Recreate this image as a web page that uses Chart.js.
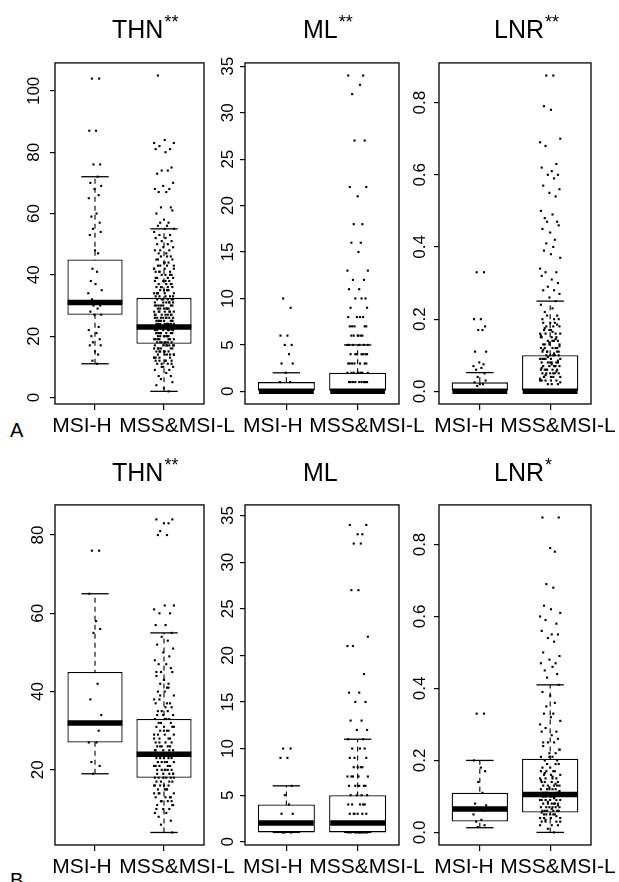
<!DOCTYPE html>
<html>
<head>
<meta charset="utf-8">
<script src="https://cdn.jsdelivr.net/npm/chart.js@4.4.1/dist/chart.umd.min.js"></script>
<style>
  body { margin: 0; background: #fff; width: 619px; height: 882px; position: relative; overflow: hidden;
         font-family: "Liberation Sans", Arial, sans-serif; color: #000; }
  canvas { position: absolute; }
  .title { position: absolute; font-size: 25px; line-height: 25px; white-space: nowrap; }
  .title sup { font-size: 18px; line-height: 18px; vertical-align: top; position: relative; top: -4px; margin-left: 1px; }
  .tag { position: absolute; font-size: 20px; line-height: 20px; }
</style>
</head>
<body>
<div class="tag" style="left:10px;top:420px;">A</div>
<div class="tag" style="left:10px;top:870px;">B</div>
<script>
const groupLabels = ["MSI-H", "MSS&MSI-L"];

// box stats per group: [lower whisker, Q1, median, Q3, upper whisker]
const statsThnA = [[11, 27, 31, 45, 72], [2, 17.5, 23, 32.5, 55]];
const statsMlA  = [[0, 0, 0, 1, 2], [0, 0, 0, 2, 5]];
const statsLnrA = [[0, 0, 0, 0.025, 0.052], [0, 0, 0, 0.1, 0.25]];
const statsThnB = [[19, 27, 32, 45, 65], [4, 18, 24, 33, 55]];
const statsMlB  = [[1, 1, 2, 4, 6], [1, 1, 2, 5, 11]];
const statsLnrB = [[0.013, 0.03, 0.065, 0.11, 0.2], [0, 0.055, 0.105, 0.205, 0.41]];

const thnAMsiH = [104, 104, 87, 87, 76, 76, 72, 70, 69, 68, 66, 65, 60, 59, 57, 55, 54, 53, 48, 47, 42, 41, 38, 37,
  35, 34, 32, 31, 31, 31, 30, 30, 29, 28, 27, 27, 23, 22, 21, 20, 19, 18, 17, 17, 15, 14, 12, 11];
const thnAMss = [105, 84, 83, 83, 82, 81, 81, 80, 75, 74, 74, 73, 70, 69, 68, 68, 67, 67, 62, 62, 61, 60,
  58, 57, 57, 56, 56, 55, 55, 54, 53, 53, 52, 52, 51, 51, 50, 50, 49, 49, 48, 48, 47, 47, 46, 46, 45, 45,
  44, 44, 43, 43, 43, 42, 42, 42, 41, 41, 41, 40, 40, 40, 39, 39, 39, 38, 38, 38, 37, 37, 37, 36, 36, 36,
  35, 35, 35, 35, 34, 34, 34, 34, 33, 33, 33, 33, 32, 32, 32, 32, 31, 31, 31, 31, 31, 30, 30, 30, 30, 30,
  29, 29, 29, 29, 29, 28, 28, 28, 28, 28, 27, 27, 27, 27, 27, 26, 26, 26, 26, 26, 26, 25, 25, 25, 25, 25, 25,
  24, 24, 24, 24, 24, 24, 23, 23, 23, 23, 23, 23, 23, 22, 22, 22, 22, 22, 22, 21, 21, 21, 21, 21, 21,
  20, 20, 20, 20, 20, 20, 19, 19, 19, 19, 19, 18, 18, 18, 18, 18, 17, 17, 17, 17, 17, 16, 16, 16, 16,
  15, 15, 15, 15, 14, 14, 14, 14, 13, 13, 13, 12, 12, 12, 11, 11, 11, 10, 10, 9, 9, 8, 7, 7, 6, 5, 4, 3, 2,
  48, 46, 45, 44, 43, 42, 41, 40, 39, 38, 37, 36, 35, 34, 33, 32, 31, 30, 29, 28, 27, 26, 25, 24, 23, 22,
  21, 20, 19, 18, 17, 16, 15, 14, 13, 12, 11, 10, 36, 34, 32, 30, 28, 27, 26, 25, 24, 23, 22, 21, 20, 19,
  18, 17, 16, 15, 14, 13, 12];

const mlAMsiH = [10, 9, 6, 6, 5, 5, 4, 3, 3, 2, 1, 1, 0, 0, 0, 0, 0, 0, 0, 0, 0, 0, 0, 0, 0, 0, 0, 0, 0, 0,
  0, 0, 0, 0, 0, 0];
const mlAMss = [34, 34, 33, 32, 27, 27, 22, 22, 21, 18, 18, 16, 16, 15, 13, 13, 12, 12, 11, 11, 10, 10, 10,
  9, 9, 8, 8, 8, 8, 7, 7, 7, 7, 7, 6, 6, 6, 6, 6, 6, 5, 5, 5, 5, 5, 5, 4, 4, 4, 4, 4, 4, 4, 3, 3, 3, 3, 3, 3, 3,
  2, 2, 2, 2, 2, 2, 2, 2, 1, 1, 1, 1, 1, 1, 1, 1, 1, 0, 0, 0, 0, 0, 0, 0, 0, 0, 0, 0, 0, 0, 0, 0, 0, 0, 0,
  0, 0, 0, 0, 0, 0, 0, 0, 0, 0, 0, 0];

const lnrAMsiH = [0.33, 0.33, 0.2, 0.2, 0.18, 0.17, 0.17, 0.11, 0.11, 0.08, 0.075, 0.07, 0.065, 0.06, 0.05,
  0.04, 0.03, 0.025, 0.02, 0.02, 0.015, 0, 0, 0, 0, 0, 0, 0, 0, 0, 0, 0, 0, 0, 0, 0, 0, 0, 0, 0, 0, 0, 0, 0, 0, 0];
const lnrAMss = [0.875, 0.875, 0.79, 0.78, 0.70, 0.69, 0.68, 0.63, 0.62, 0.61, 0.60, 0.60, 0.59, 0.57, 0.56,
  0.55, 0.54, 0.50, 0.49, 0.48, 0.47, 0.47, 0.46, 0.45, 0.44, 0.42, 0.41, 0.40, 0.39, 0.38, 0.37, 0.34,
  0.33, 0.33, 0.32, 0.31, 0.30, 0.29, 0.28, 0.28, 0.27, 0.26, 0.25, 0.24, 0.23, 0.22, 0.21, 0.21, 0.20,
  0.20, 0.19, 0.19, 0.18, 0.18, 0.17, 0.17, 0.16, 0.16, 0.16, 0.15, 0.15, 0.15, 0.14, 0.14, 0.14, 0.13,
  0.13, 0.13, 0.12, 0.12, 0.12, 0.12, 0.11, 0.11, 0.11, 0.11, 0.10, 0.10, 0.10, 0.10, 0.09, 0.09, 0.09,
  0.09, 0.09, 0.08, 0.08, 0.08, 0.08, 0.08, 0.07, 0.07, 0.07, 0.07, 0.07, 0.06, 0.06, 0.06, 0.06, 0.06,
  0.05, 0.05, 0.05, 0.05, 0.05, 0.04, 0.04, 0.04, 0.04, 0.03, 0.03, 0.03, 0.03, 0.02, 0.02, 0.02,
  0.2, 0.19, 0.18, 0.17, 0.16, 0.15, 0.14, 0.13, 0.12, 0.11, 0.10, 0.09, 0.08, 0.07, 0.06, 0.05, 0.04, 0.03,
  0.025, 0.035, 0.045, 0.055, 0.065, 0.075, 0.085, 0.095, 0.105, 0.115, 0.125, 0.135, 0.145, 0.155, 0.165,
  0.175, 0.185,
  0, 0, 0, 0, 0, 0, 0, 0, 0, 0, 0, 0, 0, 0, 0, 0, 0, 0, 0, 0, 0, 0, 0, 0, 0, 0, 0, 0, 0, 0];

const thnBMsiH = [76, 76, 65, 58, 56, 55, 42, 38, 34, 32, 30, 27, 27, 22, 21, 19];
const thnBMss = [84, 84, 83, 83, 81, 80, 80, 62, 62, 61, 60, 60, 57, 57, 55, 54, 53, 52, 51, 50, 49, 48,
  47, 47, 46, 45, 45, 44, 43, 42, 42, 41, 40, 40, 39, 38, 38, 37, 37, 36, 36, 35, 35, 34, 34, 34, 33, 33,
  33, 32, 32, 32, 31, 31, 31, 30, 30, 30, 29, 29, 29, 28, 28, 28, 27, 27, 27, 26, 26, 26, 25, 25, 25, 25,
  24, 24, 24, 24, 24, 23, 23, 23, 23, 22, 22, 22, 22, 21, 21, 21, 21, 20, 20, 20, 20, 19, 19, 19, 19,
  18, 18, 18, 18, 17, 17, 17, 16, 16, 16, 15, 15, 15, 14, 14, 14, 13, 13, 13, 12, 12, 12, 11, 11, 10, 10,
  9, 9, 8, 7, 6, 4, 45, 43, 41, 39, 37, 35, 33, 31, 29, 27, 26, 25, 24, 23, 22, 21, 20, 19, 18, 17, 16, 15,
  14, 13, 12, 11, 10, 30, 28, 26, 24, 22, 20, 18, 16];

const mlBMsiH = [10, 10, 9, 9, 6, 5, 4, 3, 3, 2, 2, 2, 2, 1, 1, 1];
const mlBMss = [34, 34, 33, 33, 32, 32, 27, 27, 22, 21, 21, 18, 16, 16, 15, 15, 13, 13, 12, 12, 11, 11, 10,
  10, 10, 9, 9, 9, 8, 8, 8, 8, 7, 7, 7, 7, 7, 6, 6, 6, 6, 6, 5, 5, 5, 5, 4, 4, 4, 4, 4, 3, 3, 3, 3, 3, 3,
  2, 2, 2, 2, 2, 2, 2, 2, 1, 1, 1, 1, 1, 1, 1, 1, 1, 1];

const lnrBMsiH = [0.33, 0.33, 0.2, 0.18, 0.17, 0.14, 0.11, 0.08, 0.075, 0.065, 0.06, 0.05, 0.035, 0.03, 0.02, 0.015];
const lnrBMss = [0.875, 0.875, 0.79, 0.78, 0.69, 0.68, 0.63, 0.62, 0.61, 0.60, 0.59, 0.58, 0.56, 0.55, 0.55,
  0.54, 0.53, 0.50, 0.49, 0.48, 0.47, 0.47, 0.46, 0.45, 0.44, 0.43, 0.41, 0.39, 0.38, 0.36, 0.35, 0.33,
  0.33, 0.32, 0.31, 0.30, 0.29, 0.28, 0.28, 0.27, 0.26, 0.25, 0.25, 0.24, 0.23, 0.22, 0.22, 0.21, 0.21,
  0.20, 0.20, 0.19, 0.19, 0.18, 0.18, 0.17, 0.17, 0.17, 0.16, 0.16, 0.16, 0.15, 0.15, 0.15, 0.14, 0.14,
  0.14, 0.13, 0.13, 0.13, 0.13, 0.12, 0.12, 0.12, 0.12, 0.11, 0.11, 0.11, 0.11, 0.11, 0.10, 0.10, 0.10,
  0.10, 0.10, 0.10, 0.09, 0.09, 0.09, 0.09, 0.09, 0.08, 0.08, 0.08, 0.08, 0.08, 0.07, 0.07, 0.07, 0.07,
  0.07, 0.06, 0.06, 0.06, 0.06, 0.06, 0.05, 0.05, 0.05, 0.05, 0.04, 0.04, 0.04, 0.04, 0.03, 0.03, 0.03,
  0.02, 0.02, 0.01, 0.0, 0.25, 0.23, 0.21, 0.19, 0.17, 0.15, 0.14, 0.13, 0.12, 0.11, 0.10, 0.09, 0.08,
  0.07, 0.06, 0.05, 0.04, 0.03, 0.02, 0.035, 0.045, 0.055, 0.065, 0.075, 0.085, 0.095, 0.105, 0.115,
  0.125, 0.135, 0.145, 0.155, 0.165];

// y-axis ticks
const thnTicksA = [0, 20, 40, 60, 80, 100];
const thnTicksB = [20, 40, 60, 80];
const mlTicks = [0, 5, 10, 15, 20, 25, 30, 35];
const lnrTicks = [0, 0.2, 0.4, 0.6, 0.8];
const lnrTickLabels = ["0.0", "0.2", "0.4", "0.6", "0.8"];

// horizontal spread of the strip points, in group units
const jitterOffsets = [-0.06, 0.08, -0.11, 0.02, 0.10, -0.03, 0.05, -0.09, 0.12, -0.01, 0.07, -0.12, 0.03,
  -0.07, 0.09, -0.04, 0.11, -0.10, 0.00, 0.06, -0.05, 0.04, -0.08, 0.01, 0.13, -0.13];
const jitterScale = [0.75, 1.1];

// layout: plot frames, titles, and where the group names sit (x units) in each column
const colBounds = [[55, 204], [245, 399], [439, 591]];
const rowBounds = [[50, 404], [492, 845]];
const titleLeft = [112, 303, 494];
const titleTop = [17, 460];
const labelPos = [[0.81, 2.19], [0.81, 2.13], [0.775, 2.11]];

const panels = [
  { row: 0, col: 0, name: "THN", stars: "**", stats: statsThnA, pts: [thnAMsiH, thnAMss], y: [-2.12, 109.12], ticks: thnTicksA },
  { row: 0, col: 1, name: "ML", stars: "**", stats: statsMlA, pts: [mlAMsiH, mlAMss], y: [-1.36, 35.36], ticks: mlTicks },
  { row: 0, col: 2, name: "LNR", stars: "**", stats: statsLnrA, pts: [lnrAMsiH, lnrAMss], y: [-0.035, 0.91], ticks: lnrTicks, labels: lnrTickLabels },
  { row: 1, col: 0, name: "THN", stars: "**", stats: statsThnB, pts: [thnBMsiH, thnBMss], y: [0.8, 87.7], ticks: thnTicksB },
  { row: 1, col: 1, name: "ML", stars: "", stats: statsMlB, pts: [mlBMsiH, mlBMss], y: [-0.35, 36.15], ticks: mlTicks },
  { row: 1, col: 2, name: "LNR", stars: "*", stats: statsLnrB, pts: [lnrBMsiH, lnrBMss], y: [-0.035, 0.91], ticks: lnrTicks, labels: lnrTickLabels }
];

Chart.defaults.font.family = "'Liberation Sans', Arial, sans-serif";
Chart.defaults.color = "#000";

const framePlugin = {
  id: "frame",
  afterDraw(chart) {
    const a = chart.chartArea, ctx = chart.ctx;
    ctx.save();
    ctx.strokeStyle = "#000";
    ctx.lineWidth = 1.3;
    ctx.strokeRect(a.left, a.top, a.right - a.left, a.bottom - a.top);
    ctx.restore();
  }
};

const padL = 50, padT = 20, padR = 45, tickH = 6, labelH = 39;
const xMin = 0.42, xMax = 2.58;

panels.forEach(function (p) {
  const [x0, x1] = colBounds[p.col];
  const [y0, y1] = rowBounds[p.row];

  const canvas = document.createElement("canvas");
  canvas.width = (x1 - x0) + padL + padR;
  canvas.height = (y1 - y0) + padT + tickH + labelH;
  canvas.style.left = (x0 - padL) + "px";
  canvas.style.top = (y0 - padT) + "px";
  document.body.appendChild(canvas);

  const title = document.createElement("div");
  title.className = "title";
  title.style.left = titleLeft[p.col] + "px";
  title.style.top = titleTop[p.row] + "px";
  title.innerHTML = p.name + (p.stars ? "<sup>" + p.stars + "</sup>" : "");
  document.body.appendChild(title);

  const points = [];
  let k = 0;
  p.pts.forEach(function (vals, g) {
    vals.forEach(function (v) {
      points.push({ x: g + 1 + jitterScale[g] * jitterOffsets[k % jitterOffsets.length], y: v });
      k++;
    });
  });

  const whiskers = p.stats.map(function (s, g) {
    return {
      type: "line",
      data: [{ x: g + 1, y: s[0] }, { x: g + 1, y: s[4] }],
      borderColor: "#000",
      borderWidth: 1.1,
      borderDash: [5, 4],
      pointRadius: 0,
      order: 4
    };
  });

  new Chart(canvas, {
    type: "bar",
    data: {
      datasets: [
        {
          type: "scatter",
          data: points,
          pointStyle: "rect",
          pointRadius: 1.5,
          pointBackgroundColor: "#000",
          pointBorderWidth: 0,
          order: 0
        },
        {
          type: "scatter",
          data: p.stats.map((s, g) => ({ x: g + 1, y: s[2] })),
          pointStyle: "line",
          pointRadius: 27.4,
          pointBorderWidth: 5.5,
          pointBorderColor: "#000",
          order: 1
        },
        {
          type: "scatter",
          data: p.stats.flatMap((s, g) => [{ x: g + 1, y: s[0] }, { x: g + 1, y: s[4] }]),
          pointStyle: "line",
          pointRadius: 13.7,
          pointBorderWidth: 1.3,
          pointBorderColor: "#000",
          order: 2
        },
        {
          type: "bar",
          data: p.stats.map((s, g) => ({ x: g + 1, y: [s[1], s[3]] })),
          backgroundColor: "#fff",
          borderColor: "#000",
          borderWidth: 1.3,
          borderSkipped: false,
          categoryPercentage: 1,
          barPercentage: 0.8,
          order: 3
        }
      ].concat(whiskers)
    },
    options: {
      responsive: false,
      animation: false,
      devicePixelRatio: 1,
      layout: { padding: { left: 0, top: padT, right: padR, bottom: 0 } },
      plugins: { legend: { display: false }, tooltip: { enabled: false } },
      scales: {
        x: {
          type: "linear",
          offset: false,
          min: xMin,
          max: xMax,
          weight: 0,
          afterBuildTicks: function (axis) { axis.ticks = [{ value: 1 }, { value: 2 }]; },
          afterFit: function (axis) { axis.height = tickH; },
          border: { display: false },
          grid: { offset: false, drawOnChartArea: false, drawTicks: true, tickLength: tickH, color: "#000", lineWidth: 1.2 },
          ticks: { display: false }
        },
        xNames: {
          type: "linear",
          position: "bottom",
          offset: false,
          min: xMin,
          max: xMax,
          weight: 1,
          afterBuildTicks: function (axis) { axis.ticks = labelPos[p.col].map(v => ({ value: v })); },
          afterFit: function (axis) { axis.height = labelH; },
          border: { display: false },
          grid: { display: false, drawTicks: false },
          ticks: {
            autoSkip: false, minRotation: 0, maxRotation: 0, padding: 4,
            font: { size: 21 }, color: "#000",
            callback: function (v, i) { return groupLabels[i]; }
          }
        },
        y: {
          type: "linear",
          min: p.y[0],
          max: p.y[1],
          afterBuildTicks: function (axis) { axis.ticks = p.ticks.map(v => ({ value: v })); },
          afterFit: function (axis) { axis.width = padL; },
          border: { display: false },
          grid: { drawOnChartArea: false, drawTicks: true, tickLength: 5, color: "#000", lineWidth: 1.2 },
          ticks: {
            autoSkip: false, minRotation: 90, maxRotation: 90, crossAlign: "center", padding: 2,
            font: { size: 17 }, color: "#000",
            callback: function (v, i) { return p.labels ? p.labels[i] : String(p.ticks[i]); }
          }
        }
      }
    },
    plugins: [framePlugin]
  });
});
</script>
</body>
</html>
